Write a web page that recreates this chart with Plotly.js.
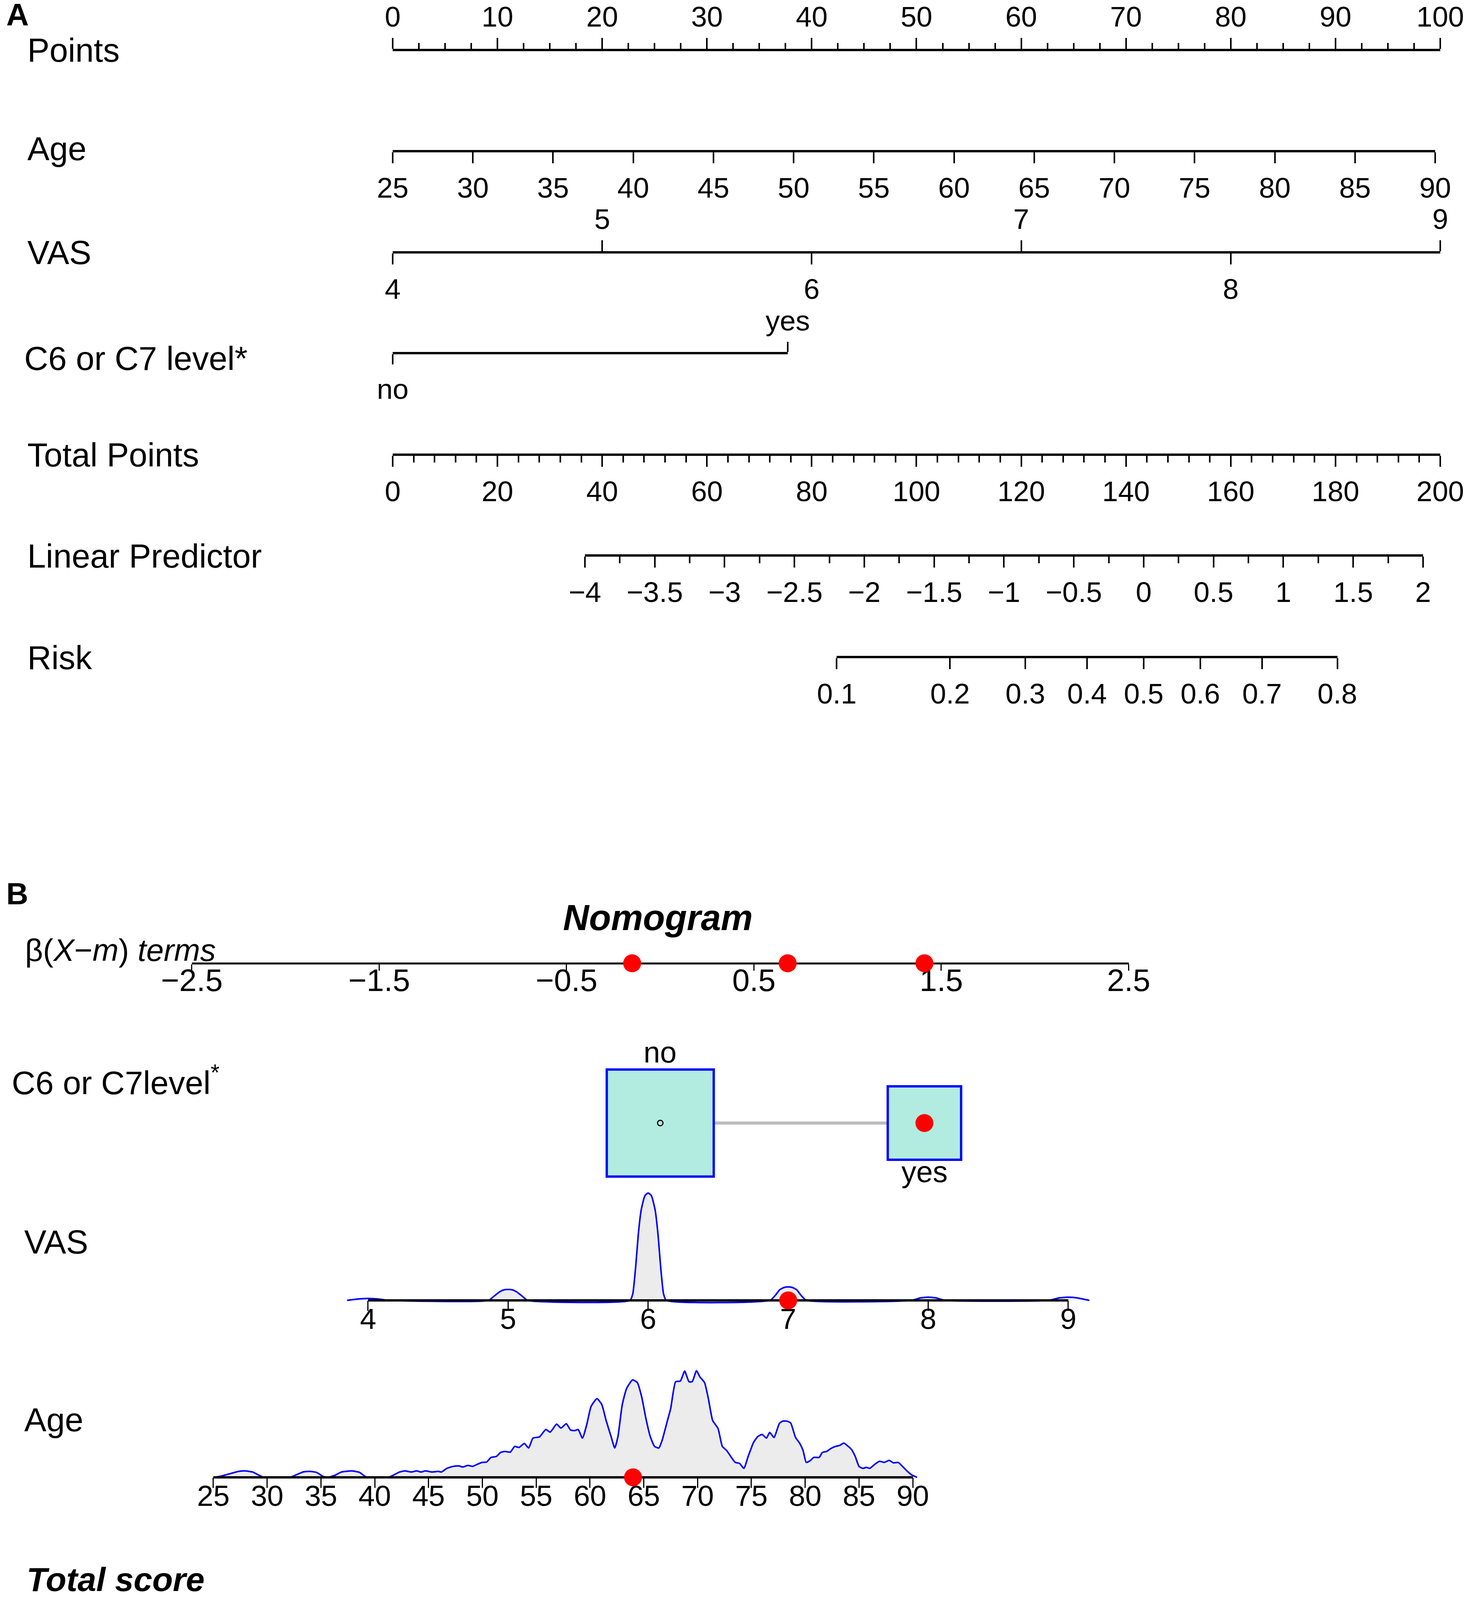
<!DOCTYPE html>
<html><head><meta charset="utf-8">
<script src="https://cdn.plot.ly/plotly-3.0.1.min.js"></script>
<style>html,body{margin:0;padding:0;background:#fff}</style>
</head><body><div id="chart" style="width:3757px;height:4912px"></div>
<script>
// ---------------- DATA ----------------
const pointsTicks = [0,10,20,30,40,50,60,70,80,90,100];
const ageTicks = [25,30,35,40,45,50,55,60,65,70,75,80,85,90];
const vasTicks = [4,5,6,7,8,9];
const c6Levels = ['no','yes'];
const totalPointsTicks = [0,20,40,60,80,100,120,140,160,180,200];
const lpTicks = [-4,-3.5,-3,-2.5,-2,-1.5,-1,-0.5,0,0.5,1,1.5,2];
const riskTicks = [0.1,0.2,0.3,0.4,0.5,0.6,0.7,0.8];

const betaTicks = [-2.5,-1.5,-0.5,0.5,1.5,2.5];
const betaTerms = [-0.15, 0.68, 1.41];      // Age, VAS, C6/C7 terms of the selected patient
const c6Beta = [0, 1.41];                   // no, yes
const c6Freq = [0.68, 0.32];                // share of patients per level
const selectedAge = 64, selectedVAS = 7, selectedC6 = 1;
const totalScoreTicks = [-2,-1,0,1,2,3];
const totalScore = 1.96;
const prTicks = [0.02,0.04,0.07,0.15,0.3,0.5,0.7,0.9];
const prEstimate = 0.629;
const prCI = [0.438, 0.789];

const vasDensX = [3.85,3.92,4.0,4.08,4.15,
  4.86,4.9,4.94,4.97,5.0,5.03,5.06,5.1,5.14,
  5.87,5.89,5.91,5.93,5.95,5.97,5.98,6.0,6.02,6.03,6.05,6.07,6.09,6.11,6.13,
  6.87,6.91,6.94,6.97,7.0,7.03,7.06,7.09,7.13,
  7.88,7.94,8.0,8.06,8.12,
  8.86,8.93,9.0,9.07,9.15];
const vasDensY = [0,0.012,0.018,0.012,0,
  0,0.04,0.08,0.098,0.102,0.098,0.08,0.04,0,
  0,0.06,0.3,0.62,0.84,0.95,0.98,1.0,0.98,0.95,0.84,0.62,0.3,0.06,0,
  0,0.05,0.1,0.12,0.125,0.12,0.1,0.05,0,
  0,0.022,0.03,0.022,0,
  0,0.022,0.03,0.022,0];

const ageDensX = [25.0,25.6,26.65,27.35,27.96,28.65,29.26,29.7,
  32.1,32.8,33.4,33.96,34.57,35.2,35.6,
  36.3,36.9,37.87,38.57,39.1,39.5,
  41.3,41.7,42.3,42.8,43.4,43.9,44.3,44.7,45.3,45.9,46.2,
  46.7,47.3,47.8,48.2,48.65,49.1,49.5,49.96,50.4,50.8,
  51.3,51.7,52.1,52.6,53.0,53.4,53.9,54.3,54.7,55.3,
  55.9,56.3,56.9,57.3,57.8,58.2,58.6,58.9,59.3,59.7,
  60.1,60.65,61.1,61.5,61.96,62.3,62.6,63.0,63.4,63.96,
  64.4,64.8,65.2,65.6,66.0,66.4,66.7,67.2,67.5,67.96,
  68.4,68.8,69.2,69.5,69.9,70.2,70.65,71.0,71.4,71.9,
  72.3,72.7,73.2,73.5,73.9,74.3,74.7,75.2,75.6,76.0,
  76.4,76.7,77.1,77.6,77.9,78.3,78.65,79.1,79.5,79.8,
  80.1,80.5,80.8,81.3,81.6,82.0,82.4,82.8,83.2,83.6,
  84.0,84.3,84.65,85.0,85.35,85.7,86.0,86.5,86.9,87.35,
  87.8,88.2,88.65,89.1,89.5,89.96,90.4];
const ageDensY = [0,0.009,0.037,0.056,0.060,0.050,0.019,0,
  0,0.028,0.052,0.056,0.047,0.009,0,
  0.019,0.050,0.060,0.047,0.009,0,
  0,0.019,0.050,0.060,0.050,0.060,0.050,0.060,0.050,0.056,0.050,
  0.084,0.103,0.107,0.097,0.112,0.103,0.121,0.140,0.144,0.187,
  0.196,0.234,0.243,0.237,0.290,0.280,0.318,0.275,0.368,0.379,
  0.449,0.424,0.499,0.462,0.503,0.443,0.439,0.449,0.368,0.495,
  0.664,0.738,0.682,0.533,0.383,0.275,0.383,0.682,0.832,0.914,
  0.888,0.757,0.551,0.383,0.290,0.275,0.346,0.533,0.645,0.897,
  0.903,0.996,0.897,0.897,1.0,0.944,0.888,0.738,0.533,0.458,
  0.290,0.252,0.178,0.140,0.131,0.084,0.196,0.327,0.383,0.402,
  0.368,0.421,0.374,0.505,0.527,0.527,0.510,0.374,0.318,0.252,
  0.140,0.159,0.187,0.187,0.234,0.243,0.271,0.290,0.299,0.321,
  0.290,0.262,0.196,0.103,0.084,0.093,0.084,0.125,0.150,0.140,
  0.159,0.136,0.140,0.097,0.056,0.019,0];

const scoreDensX = [-2.27,-2.17,-2.13,-2.08,-2.03,-1.99,-1.94,-1.90,-1.84,-1.79,
  -1.75,-1.71,-1.66,-1.61,-1.59,-1.55,-1.51,-1.47,-1.44,-1.41,
  -1.36,-1.33,-1.30,-1.26,-1.23,-1.19,-1.14,-1.10,-1.07,-1.02,
  -0.98,-0.95,-0.89,-0.84,-0.81,-0.78,-0.76,-0.73,-0.70,-0.66,
  -0.63,-0.60,-0.58,-0.54,-0.51,-0.48,-0.45,-0.42,-0.39,-0.36,
  -0.33,-0.31,-0.27,-0.24,-0.21,-0.19,-0.16,-0.13,-0.10,-0.07,
  -0.04,-0.01,0.04,0.07,0.09,0.13,0.16,0.19,0.21,0.24,
  0.27,0.30,0.33,0.36,0.39,0.42,0.45,0.48,0.51,0.54,
  0.57,0.60,0.63,0.66,0.69,0.72,0.75,0.78,0.81,0.84,
  0.87,0.90,0.93,0.96,0.99,1.02,1.05,1.08,1.10,1.13,
  1.17,1.20,1.23,1.26,1.29,1.32,1.35,1.38,1.41,1.44,
  1.46,1.49,1.52,1.55,1.58,1.61,1.64,1.67,1.70,1.73,
  1.79,1.82,1.85,1.88,1.91,1.94,1.97,2.00,2.03,2.06,
  2.09,2.12,2.15,2.18,2.24,2.27,2.30,2.33,2.36,2.42,
  2.45,2.51,2.57,2.63,2.69,2.73,2.76,3.00,3.04,3.08,
  3.12,3.16,3.22,3.27];
const scoreDensY = [0,0.058,0.068,0.058,0.051,0.062,0.068,0.047,0,0.079,
  0.126,0.143,0.111,0.079,0.058,0.090,0.154,0.168,0.154,0.168,
  0.175,0.132,0.164,0.179,0.154,0.122,0.111,0.079,0.090,0.096,
  0.111,0.228,0.345,0.356,0.345,0.409,0.424,0.548,0.676,0.761,
  0.787,0.761,0.633,0.623,0.548,0.697,0.729,0.768,0.719,0.655,
  0.537,0.559,0.473,0.612,0.708,0.736,0.676,0.505,0.377,0.463,
  0.484,0.676,0.932,0.974,1.0,0.910,0.846,0.676,0.612,0.484,
  0.377,0.303,0.313,0.275,0.313,0.356,0.484,0.580,0.633,0.665,
  0.644,0.659,0.569,0.527,0.463,0.441,0.409,0.431,0.505,0.591,
  0.655,0.676,0.701,0.736,0.719,0.676,0.616,0.612,0.633,0.665,
  0.612,0.537,0.463,0.409,0.394,0.420,0.537,0.612,0.633,0.612,
  0.623,0.655,0.676,0.665,0.691,0.633,0.505,0.335,0.207,0.175,
  0.122,0.132,0.207,0.313,0.463,0.612,0.676,0.691,0.655,0.527,
  0.377,0.228,0.143,0.111,0.181,0.186,0.154,0.111,0.058,0.026,
  0.047,0.079,0.111,0.083,0.058,0.026,0,0,0.036,0.068,
  0.068,0.047,0.004,0];

// ---------------- LAYOUT HELPERS ----------------
const W = 3757, H = 4912;
const FONT = '"Liberation Sans", Arial, Helvetica, sans-serif';
const fx = p => p / W;
const fy = p => 1 - p / H;
const logit = p => Math.log(p / (1 - p));
const fmt = v => (v < 0 ? '\u2212' : '') + String(Math.abs(v));
const DENS_PX = 273;

const data = [];
const layout = {
  width: W, height: H, margin: {l:0, r:0, t:0, b:0},
  paper_bgcolor: '#ffffff', plot_bgcolor: 'rgba(0,0,0,0)',
  showlegend: false, hovermode: false,
  font: {family: FONT, color: '#000'},
  annotations: []
};

let axN = 0;
function addRow(o) {
  axN++;
  const sfx = axN === 1 ? '' : String(axN);
  const lo = o.lo != null ? o.lo : 40, hi = o.hi != null ? o.hi : 40;
  const px = v => o.px0 + (v - o.v0) * o.k;
  const eps = (o.range[1] - o.range[0]) * 1e-6;
  const r = [o.range[0] - eps, o.range[1] + eps];
  layout['yaxis' + sfx] = {domain: [fy(o.lineY + lo), fy(o.lineY - hi)], range: [-lo, hi],
    visible: false, fixedrange: true};
  const hasTicks = !!o.tickvals;
  const ax = {
    domain: [fx(px(r[0])), fx(px(r[1]))], range: r, anchor: 'free', position: fy(o.lineY),
    side: o.side || 'bottom', showgrid: false, zeroline: false,
    showline: !!o.showline, linecolor: '#000', linewidth: o.lw || 6,
    ticks: hasTicks ? 'outside' : '', ticklen: o.ticklen || 28, tickwidth: o.tw || 4, tickcolor: '#000',
    tickmode: 'array', tickvals: o.tickvals || [], ticktext: o.ticktext || [],
    showticklabels: hasTicks,
    tickfont: {family: FONT, size: o.fs || 73, color: '#000'},
    ticklabelstandoff: o.standoff || 0, layer: 'below traces', fixedrange: true
  };
  if (o.minor) ax.minor = o.minor;
  layout['xaxis' + sfx] = ax;
  data.push({type: 'scatter', x: [o.range[0]], y: [0], xaxis: 'x' + sfx, yaxis: 'y' + sfx,
    mode: 'markers', marker: {size: 1, opacity: 0}, hoverinfo: 'skip'});
  return {x: 'x' + sfx, y: 'y' + sfx};
}
function label(text, px, py, size, extra) {
  layout.annotations.push(Object.assign({text: text, x: fx(px), y: fy(py), xref: 'paper', yref: 'paper',
    xanchor: 'left', yanchor: 'middle', showarrow: false,
    font: {family: FONT, size: size, color: '#000'}}, extra || {}));
}

// ---------------- PANEL A ----------------
const A_STAND = 0;
const minorTick = (t0, dt, len) => ({tickmode: 'linear', tick0: t0, dtick: dt, ticks: 'outside',
  ticklen: len, tickwidth: 4, tickcolor: '#000'});

addRow({lineY: 128, px0: 1005, v0: 0, k: 26.81, range: [0, 100], side: 'top', showline: true,
  tickvals: pointsTicks, ticktext: pointsTicks.map(fmt), minor: minorTick(0, 2.5, 15), standoff: A_STAND});
addRow({lineY: 387, px0: 1005, v0: 25, k: 41.046, range: [25, 90], showline: true,
  tickvals: ageTicks, ticktext: ageTicks.map(fmt), standoff: A_STAND});
const vasOdd = vasTicks.filter(v => v % 2 === 1), vasEven = vasTicks.filter(v => v % 2 === 0);
addRow({lineY: 646, px0: 1005, v0: 4, k: 536.2, range: [4, 9], side: 'top', showline: true,
  tickvals: vasOdd, ticktext: vasOdd.map(fmt), standoff: A_STAND});
addRow({lineY: 646, px0: 1005, v0: 4, k: 536.2, range: [4, 9], showline: true,
  tickvals: vasEven, ticktext: vasEven.map(fmt), standoff: A_STAND});
addRow({lineY: 904, px0: 1005, v0: 0, k: 1011, range: [0, 1], side: 'top', showline: true,
  tickvals: [1], ticktext: [c6Levels[1]], ticklen: 26, standoff: A_STAND});
addRow({lineY: 904, px0: 1005, v0: 0, k: 1011, range: [0, 1], showline: true,
  tickvals: [0], ticktext: [c6Levels[0]], ticklen: 26, standoff: A_STAND});
addRow({lineY: 1164, px0: 1005, v0: 0, k: 13.405, range: [0, 200], showline: true,
  tickvals: totalPointsTicks, ticktext: totalPointsTicks.map(fmt), minor: minorTick(0, 4, 17), standoff: A_STAND});
addRow({lineY: 1422, px0: 1497, v0: -4, k: 357.5, range: [-4, 2], showline: true,
  tickvals: lpTicks, ticktext: lpTicks.map(fmt), minor: minorTick(-4, 0.25, 17), standoff: A_STAND});
addRow({lineY: 1682, px0: 1497, v0: -4, k: 357.5, range: [logit(riskTicks[0]), logit(riskTicks[riskTicks.length - 1])],
  showline: true, tickvals: riskTicks.map(logit), ticktext: riskTicks.map(String), standoff: A_STAND});

label('<b>A</b>', 14, 38, 80);
label('Points', 68, 128, 85);
label('Age', 68, 380, 85);
label('VAS', 68, 646, 85);
label('C6 or C7 level*', 60, 917, 85);
label('Total Points', 68, 1164, 85);
label('Linear Predictor', 68, 1423, 85);
label('Risk', 68, 1683, 85);

// ---------------- PANEL B ----------------
const B_STAND = -44;
const RED = '#ff0000', BLUE = '#0000ff', FILL = '#ececec';

// beta(X-m) terms axis
const rb = addRow({lineY: 2466, px0: 491, v0: -2.5, k: 479.5, range: [-2.5, 2.5], showline: true, lw: 5,
  tickvals: betaTicks, ticktext: betaTicks.map(fmt), ticklen: 16, tw: 3, fs: 80, standoff: B_STAND});
data.push({type: 'scatter', x: betaTerms, y: betaTerms.map(() => 0), xaxis: rb.x, yaxis: rb.y,
  mode: 'markers', marker: {color: RED, size: 46, opacity: 1}, cliponaxis: false, hoverinfo: 'skip'});

// C6/C7 level boxes
const BOX_K = 332;
const boxSide = c6Freq.map(f => BOX_K * Math.sqrt(f));
const rc = addRow({lineY: 2875, lo: 230, hi: 230, px0: 491, v0: -2.5, k: 479.5, range: [-2.5, 2.5]});
data.push({type: 'scatter', x: c6Beta, y: [0, 0], xaxis: rc.x, yaxis: rc.y, mode: 'lines',
  line: {color: '#bdbdbd', width: 8}, hoverinfo: 'skip'});
data.push({type: 'scatter', x: c6Beta, y: [0, 0], xaxis: rc.x, yaxis: rc.y, mode: 'markers',
  marker: {symbol: 'square', size: boxSide, color: '#b2ebe0', opacity: 1,
    line: {color: BLUE, width: 6}}, cliponaxis: false, hoverinfo: 'skip'});
data.push({type: 'scatter', x: [c6Beta[1 - selectedC6]], y: [0], xaxis: rc.x, yaxis: rc.y, mode: 'markers',
  marker: {symbol: 'circle-open', size: 14, color: '#000', opacity: 1, line: {width: 3, color: '#000'}}, hoverinfo: 'skip'});
data.push({type: 'scatter', x: [c6Beta[selectedC6]], y: [0], xaxis: rc.x, yaxis: rc.y, mode: 'markers',
  marker: {color: RED, size: 46, opacity: 1}, cliponaxis: false, hoverinfo: 'skip'});
c6Levels.forEach((lv, i) => {
  const up = i === 0;
  layout.annotations.push({text: lv, x: c6Beta[i], xref: rc.x, y: (up ? 1 : -1) * boxSide[i] / 2, yref: rc.y,
    xanchor: 'center', yanchor: up ? 'bottom' : 'top', yshift: up ? 0 : 14, showarrow: false,
    font: {family: FONT, size: 76, color: '#000'}});
});

function densityRow(o, dx, dy, ticks, sel, hpx) {
  const r = addRow(Object.assign({lo: 80, hi: 310, tickvals: ticks, ticktext: ticks.map(fmt),
    ticklen: 26, tw: 3, fs: 75, standoff: B_STAND}, o));
  data.push({type: 'scatter', x: dx, y: dy.map(v => v * hpx), xaxis: r.x, yaxis: r.y, mode: 'lines',
    line: {color: BLUE, width: 4, shape: 'spline', smoothing: 0.5}, fill: 'tozeroy', fillcolor: FILL,
    hoverinfo: 'skip'});
  data.push({type: 'scatter', x: [ticks[0], ticks[ticks.length - 1]], y: [0, 0], xaxis: r.x, yaxis: r.y,
    mode: 'lines', line: {color: '#000', width: 6}, hoverinfo: 'skip'});
  if (sel != null) data.push({type: 'scatter', x: [sel], y: [0], xaxis: r.x, yaxis: r.y, mode: 'markers',
    marker: {color: RED, size: 46, opacity: 1}, cliponaxis: false, hoverinfo: 'skip'});
  return r;
}
densityRow({lineY: 3329, px0: 942, v0: 4, k: 358.4, range: [3.8, 9.2]}, vasDensX, vasDensY, vasTicks, selectedVAS, 275);
densityRow({lineY: 3782, px0: 546, v0: 25, k: 27.54, range: [24.5, 91]}, ageDensX, ageDensY, ageTicks, selectedAge, DENS_PX);
const rt = densityRow({lineY: 4462, px0: 678, v0: -2, k: 402.4, range: [-2.35, 3.35]}, scoreDensX, scoreDensY, totalScoreTicks, null, 271);
data.push({type: 'scatter', x: [totalScore], y: [0], xaxis: rt.x, yaxis: rt.y, mode: 'markers',
  marker: {symbol: 'diamond', color: RED, size: 54, opacity: 1}, cliponaxis: false, hoverinfo: 'skip'});

// Pr axis with CI and arrow
const PR_Y = 4826, TOT_Y = 4462, TRI = 62;
const rp = addRow({lineY: PR_Y, lo: 60, hi: PR_Y - TOT_Y, px0: 487, v0: logit(prTicks[0]), k: 403.4,
  range: [logit(prTicks[0]), logit(prTicks[prTicks.length - 1])], showline: true, lw: 5,
  tickvals: prTicks.map(logit), ticktext: prTicks.map(String), ticklen: 20, tw: 3, fs: 76, standoff: -52});
data.push({type: 'scatter', x: prCI.map(logit), y: [0, 0], xaxis: rp.x, yaxis: rp.y, mode: 'lines+markers',
  line: {color: RED, width: 14}, marker: {symbol: 'line-ns', size: 72, color: RED, opacity: 1, line: {color: RED, width: 6}},
  cliponaxis: false, hoverinfo: 'skip'});
data.push({type: 'scatter', x: [logit(prEstimate), logit(prEstimate)], y: [PR_Y - TOT_Y, TRI / 2],
  xaxis: rp.x, yaxis: rp.y, mode: 'lines+markers', line: {color: RED, width: 4},
  marker: {symbol: ['circle', 'triangle-down'], size: [0, TRI], color: RED, opacity: 1}, cliponaxis: false, hoverinfo: 'skip'});

layout.annotations.push({text: '<i>' + totalScore.toFixed(2) + '</i>', x: totalScore, xref: rt.x,
  y: fy(4420), yref: 'paper', xanchor: 'center', yanchor: 'middle', showarrow: false,
  font: {family: FONT, size: 80, color: RED}});
layout.annotations.push({text: '<i>' + prEstimate.toFixed(3) + '</i>', x: logit(prEstimate), xref: rp.x,
  y: fy(4775), yref: 'paper', xanchor: 'right', yanchor: 'middle', xshift: -48, showarrow: false,
  font: {family: FONT, size: 80, color: RED}});

label('<b>B</b>', 14, 2288, 78);
label('<b><i>Nomogram</i></b>', 1684, 2349, 92, {xanchor: 'center'});
label('\u03b2(<i>X</i>\u2212<i>m</i>) <i>terms</i>', 62, 2432, 80);
label('C6 or C7level<sup>*</sup>', 28, 2766, 84);
label('VAS', 60, 3179, 85);
label('Age', 60, 3634, 85);
label('<b><i>Total score</i></b>', 66, 4043, 86);
label('<i>Pr(  )</i>', 286, 4815, 82);

Plotly.newPlot('chart', data, layout, {staticPlot: true, displayModeBar: false});
</script></body></html>
